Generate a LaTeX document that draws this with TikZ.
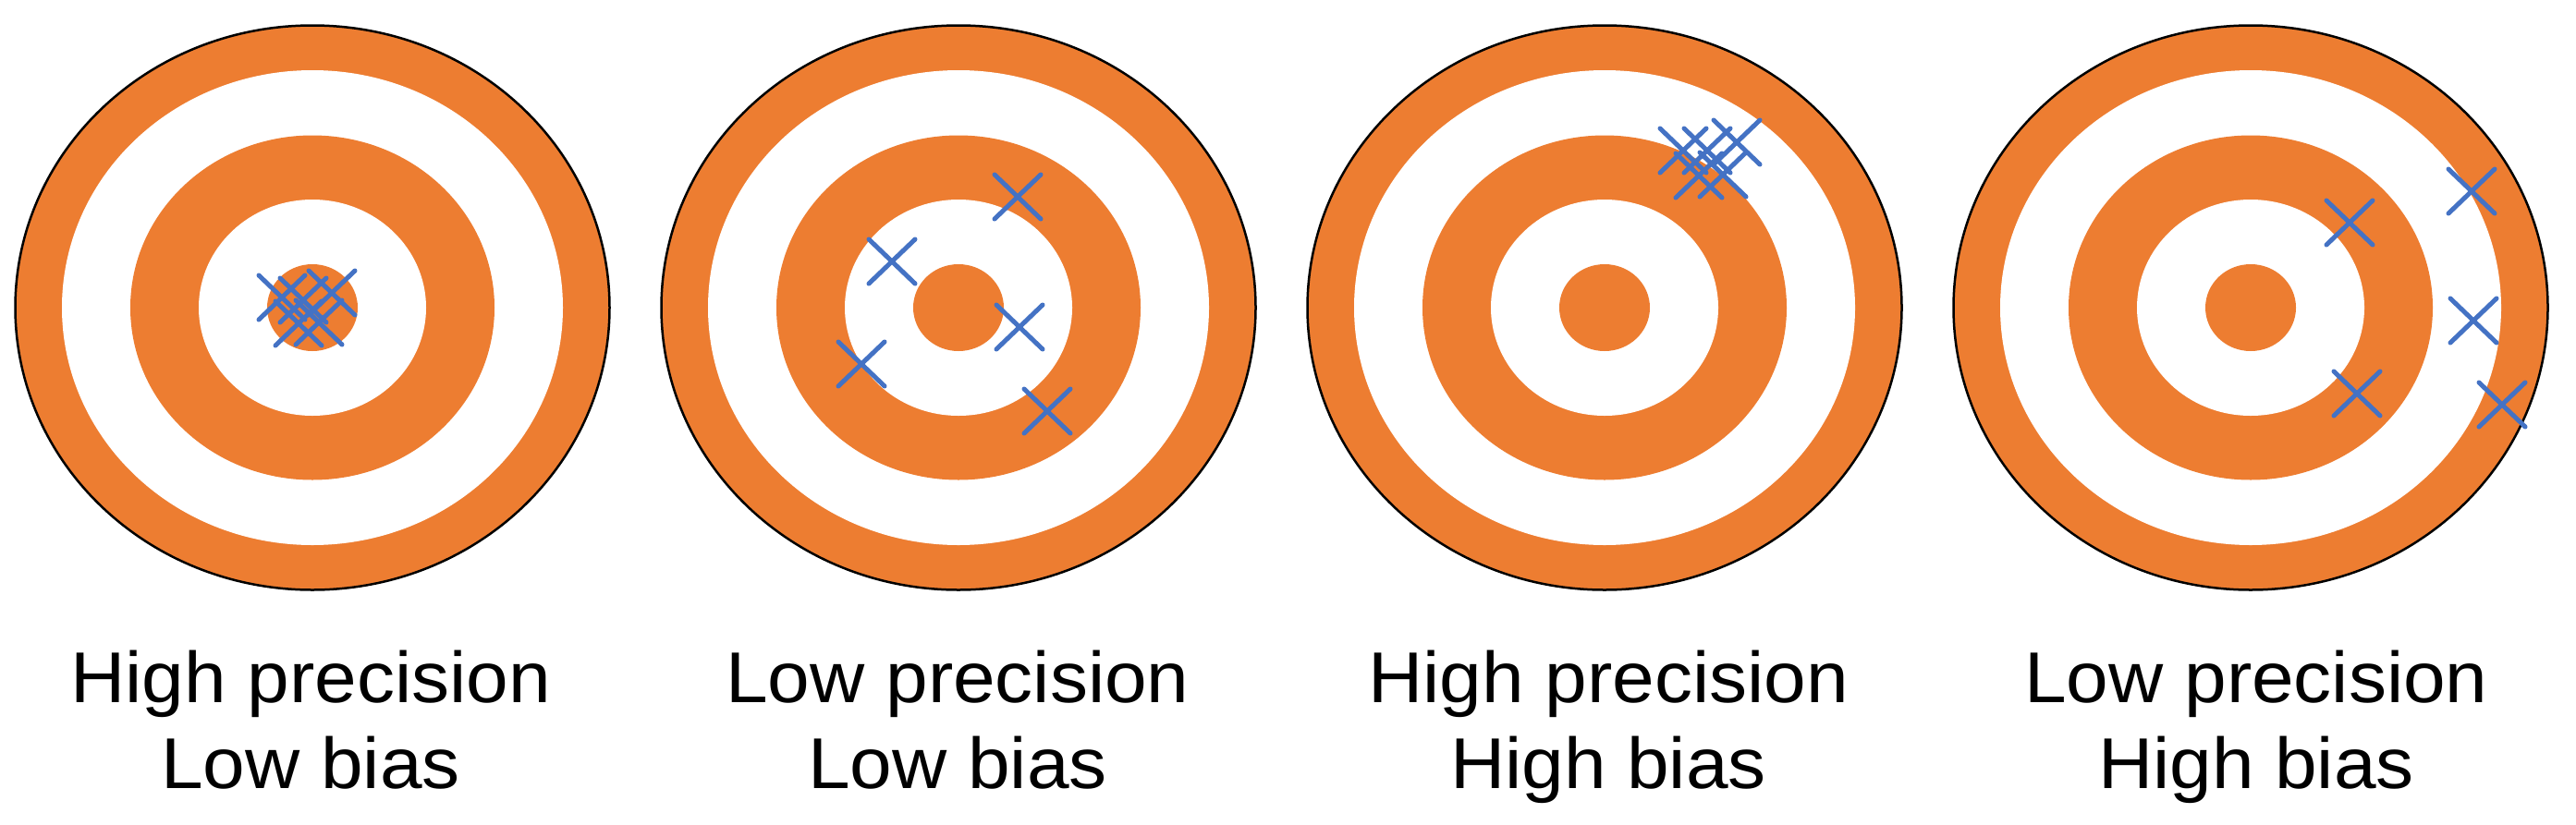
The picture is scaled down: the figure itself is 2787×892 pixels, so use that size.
\documentclass[tikz,border=0pt]{standalone}
\usepackage{graphicx}
\usepackage{fontspec}
\setmainfont{Liberation Sans}
\definecolor{tgorange}{HTML}{ED7D31}
\definecolor{tgblue}{HTML}{4472C4}
\tikzset{
  ring/.style={fill=tgorange},
  hole/.style={fill=white},
  crossline/.style={draw=tgblue, line width=5pt, line cap=round},
  lbl/.style={anchor=base, inner sep=0pt, font=\fontsize{82}{98}\selectfont},
  xmark/.pic={\draw[crossline] (-25,-24) -- (25,24) (-25,24) -- (25,-24);},
  target/.pic={
    \fill[ring, draw=black, line width=2.5pt] (0,0) ellipse [x radius=321.5pt, y radius=305.5pt];
    \fill[hole] (0,0) ellipse [x radius=271pt, y radius=257pt];
    \fill[ring] (0,0) ellipse [x radius=197pt, y radius=186.5pt];
    \fill[hole] (0,0) ellipse [x radius=123pt, y radius=117pt];
    \fill[ring] (0,0) ellipse [x radius=49pt, y radius=47pt];
  }
}
\begin{document}
\begin{tikzpicture}[x=1pt, y=-1pt]
\fill[white] (0,0) rectangle (2787,892);
\useasboundingbox (0,0) rectangle (2787,892);
% targets
\pic at (338,333) {target};
\pic at (1037,333) {target};
\pic at (1736,333) {target};
\pic at (2435,333) {target};
% target 1 crosses
\foreach \p in {(305,322),(328,325),(359,317),(323,350),(345,349)} \pic at \p {xmark};
% target 2 crosses
\foreach \p in {(1101,213),(965,283),(1103,354),(1133,445),(932,394)} \pic at \p {xmark};
% target 3 crosses
\foreach \p in {(1821,163),(1847,163),(1879,154),(1838,190),(1864,189)} \pic at \p {xmark};
% target 4 crosses
\foreach \p in {(2542,241),(2674,207),(2676,347),(2550,426),(2707,438)} \pic at \p {xmark};
% labels
\node[lbl] (l1a) at (336,760) {\scalebox{1}[0.95]{High precision}};
\node[lbl] (l1b) at (336,853) {\scalebox{1}[0.95]{Low bias}};
\node[lbl] (l2a) at (1036,760) {\scalebox{1}[0.95]{Low precision}};
\node[lbl] (l2b) at (1036,853) {\scalebox{1}[0.95]{Low bias}};
\node[lbl] (l3a) at (1740,760) {\scalebox{1}[0.95]{High precision}};
\node[lbl] (l3b) at (1740,853) {\scalebox{1}[0.95]{High bias}};
\node[lbl] (l4a) at (2441,760) {\scalebox{1}[0.95]{Low precision}};
\node[lbl] (l4b) at (2441,853) {\scalebox{1}[0.95]{High bias}};
\end{tikzpicture}
\end{document}
